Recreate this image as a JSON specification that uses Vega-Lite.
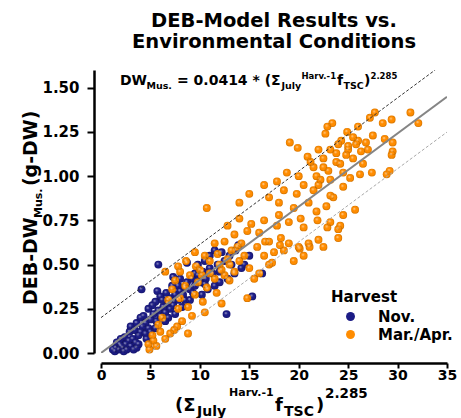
{
  "$schema": "https://vega.github.io/schema/vega-lite/v6.json",
  "autosize": "none",
  "width": 346,
  "height": 283,
  "padding": {"left": 101, "top": 70, "right": 14, "bottom": 65},
  "background": "white",
  "config": {"view": {"stroke": null}, "font": "DejaVu Sans"},
  "title": {"text": ["DEB-Model Results vs.", "Environmental Conditions"], "font": "DejaVu Sans", "fontSize": 19.5, "fontWeight": "bold", "anchor": "middle", "offset": 18, "lineHeight": 21, "color": "black"},
  "datasets": {
    "pts": [
      {"x":1.2,"y":0.02,"Harvest":"Nov."},{"x":1.4,"y":0.01,"Harvest":"Nov."},{"x":1.5,"y":0.03,"Harvest":"Nov."},{"x":1.6,"y":0.06,"Harvest":"Nov."},{"x":1.8,"y":0.02,"Harvest":"Nov."},{"x":1.9,"y":0.05,"Harvest":"Nov."},{"x":2.0,"y":0.04,"Harvest":"Nov."},{"x":2.0,"y":0.08,"Harvest":"Nov."},{"x":2.2,"y":0.03,"Harvest":"Nov."},{"x":2.3,"y":0.01,"Harvest":"Nov."},{"x":2.4,"y":0.09,"Harvest":"Nov."},{"x":2.5,"y":0.05,"Harvest":"Nov."},{"x":2.6,"y":0.02,"Harvest":"Nov."},{"x":2.8,"y":0.07,"Harvest":"Nov."},{"x":2.9,"y":0.12,"Harvest":"Nov."},{"x":3.0,"y":0.04,"Harvest":"Nov."},{"x":3.0,"y":0.15,"Harvest":"Nov."},{"x":3.2,"y":0.08,"Harvest":"Nov."},{"x":3.3,"y":0.02,"Harvest":"Nov."},{"x":3.4,"y":0.13,"Harvest":"Nov."},{"x":3.5,"y":0.06,"Harvest":"Nov."},{"x":3.6,"y":0.03,"Harvest":"Nov."},{"x":3.6,"y":0.17,"Harvest":"Nov."},{"x":3.8,"y":0.10,"Harvest":"Nov."},{"x":3.8,"y":0.05,"Harvest":"Nov."},{"x":4.0,"y":0.12,"Harvest":"Nov."},{"x":4.0,"y":0.20,"Harvest":"Nov."},{"x":4.1,"y":0.36,"Harvest":"Nov."},{"x":4.2,"y":0.15,"Harvest":"Nov."},{"x":4.3,"y":0.21,"Harvest":"Nov."},{"x":4.5,"y":0.17,"Harvest":"Nov."},{"x":4.5,"y":0.11,"Harvest":"Nov."},{"x":4.6,"y":0.08,"Harvest":"Nov."},{"x":4.8,"y":0.14,"Harvest":"Nov."},{"x":4.8,"y":0.25,"Harvest":"Nov."},{"x":5.0,"y":0.19,"Harvest":"Nov."},{"x":5.0,"y":0.12,"Harvest":"Nov."},{"x":5.2,"y":0.27,"Harvest":"Nov."},{"x":5.3,"y":0.22,"Harvest":"Nov."},{"x":5.5,"y":0.14,"Harvest":"Nov."},{"x":5.5,"y":0.29,"Harvest":"Nov."},{"x":5.6,"y":0.18,"Harvest":"Nov."},{"x":5.7,"y":0.35,"Harvest":"Nov."},{"x":5.8,"y":0.24,"Harvest":"Nov."},{"x":5.8,"y":0.50,"Harvest":"Nov."},{"x":6.0,"y":0.21,"Harvest":"Nov."},{"x":6.0,"y":0.32,"Harvest":"Nov."},{"x":6.2,"y":0.30,"Harvest":"Nov."},{"x":6.3,"y":0.26,"Harvest":"Nov."},{"x":6.5,"y":0.23,"Harvest":"Nov."},{"x":6.5,"y":0.18,"Harvest":"Nov."},{"x":6.6,"y":0.34,"Harvest":"Nov."},{"x":6.8,"y":0.28,"Harvest":"Nov."},{"x":6.8,"y":0.20,"Harvest":"Nov."},{"x":7.0,"y":0.31,"Harvest":"Nov."},{"x":7.0,"y":0.25,"Harvest":"Nov."},{"x":7.2,"y":0.38,"Harvest":"Nov."},{"x":7.3,"y":0.27,"Harvest":"Nov."},{"x":7.3,"y":0.43,"Harvest":"Nov."},{"x":7.5,"y":0.33,"Harvest":"Nov."},{"x":7.5,"y":0.22,"Harvest":"Nov."},{"x":7.8,"y":0.30,"Harvest":"Nov."},{"x":7.8,"y":0.38,"Harvest":"Nov."},{"x":8.0,"y":0.35,"Harvest":"Nov."},{"x":8.0,"y":0.42,"Harvest":"Nov."},{"x":8.2,"y":0.26,"Harvest":"Nov."},{"x":8.3,"y":0.33,"Harvest":"Nov."},{"x":8.5,"y":0.37,"Harvest":"Nov."},{"x":8.5,"y":0.30,"Harvest":"Nov."},{"x":8.7,"y":0.40,"Harvest":"Nov."},{"x":8.7,"y":0.51,"Harvest":"Nov."},{"x":9.0,"y":0.36,"Harvest":"Nov."},{"x":9.0,"y":0.30,"Harvest":"Nov."},{"x":9.2,"y":0.42,"Harvest":"Nov."},{"x":9.3,"y":0.34,"Harvest":"Nov."},{"x":9.5,"y":0.38,"Harvest":"Nov."},{"x":9.5,"y":0.45,"Harvest":"Nov."},{"x":9.8,"y":0.44,"Harvest":"Nov."},{"x":9.8,"y":0.50,"Harvest":"Nov."},{"x":10.0,"y":0.40,"Harvest":"Nov."},{"x":10.2,"y":0.33,"Harvest":"Nov."},{"x":10.3,"y":0.46,"Harvest":"Nov."},{"x":10.5,"y":0.52,"Harvest":"Nov."},{"x":10.5,"y":0.39,"Harvest":"Nov."},{"x":10.6,"y":0.42,"Harvest":"Nov."},{"x":10.8,"y":0.36,"Harvest":"Nov."},{"x":11.0,"y":0.48,"Harvest":"Nov."},{"x":11.0,"y":0.55,"Harvest":"Nov."},{"x":11.3,"y":0.45,"Harvest":"Nov."},{"x":11.5,"y":0.38,"Harvest":"Nov."},{"x":11.5,"y":0.58,"Harvest":"Nov."},{"x":11.8,"y":0.50,"Harvest":"Nov."},{"x":12.0,"y":0.46,"Harvest":"Nov."},{"x":12.0,"y":0.40,"Harvest":"Nov."},{"x":12.2,"y":0.57,"Harvest":"Nov."},{"x":12.5,"y":0.52,"Harvest":"Nov."},{"x":12.7,"y":0.22,"Harvest":"Nov."},{"x":12.8,"y":0.42,"Harvest":"Nov."},{"x":13.0,"y":0.55,"Harvest":"Nov."},{"x":13.2,"y":0.50,"Harvest":"Nov."},{"x":13.5,"y":0.45,"Harvest":"Nov."},{"x":13.6,"y":0.58,"Harvest":"Nov."},{"x":13.9,"y":0.61,"Harvest":"Nov."},{"x":14.2,"y":0.48,"Harvest":"Nov."},{"x":14.5,"y":0.50,"Harvest":"Nov."},{"x":15.0,"y":0.55,"Harvest":"Nov."},{"x":15.3,"y":0.32,"Harvest":"Nov."},{"x":16.3,"y":0.45,"Harvest":"Nov."},
      {"x":4.8,"y":0.05,"Harvest":"Mar./Apr."},{"x":5.2,"y":0.10,"Harvest":"Mar./Apr."},{"x":5.3,"y":0.07,"Harvest":"Mar./Apr."},{"x":5.6,"y":0.04,"Harvest":"Mar./Apr."},{"x":6.0,"y":0.12,"Harvest":"Mar./Apr."},{"x":6.2,"y":0.20,"Harvest":"Mar./Apr."},{"x":7.0,"y":0.11,"Harvest":"Mar./Apr."},{"x":7.4,"y":0.13,"Harvest":"Mar./Apr."},{"x":7.7,"y":0.15,"Harvest":"Mar./Apr."},{"x":7.8,"y":0.25,"Harvest":"Mar./Apr."},{"x":8.2,"y":0.18,"Harvest":"Mar./Apr."},{"x":8.8,"y":0.11,"Harvest":"Mar./Apr."},{"x":8.8,"y":0.26,"Harvest":"Mar./Apr."},{"x":9.2,"y":0.21,"Harvest":"Mar./Apr."},{"x":10.5,"y":0.23,"Harvest":"Mar./Apr."},{"x":10.3,"y":0.29,"Harvest":"Mar./Apr."},{"x":12.2,"y":0.28,"Harvest":"Mar./Apr."},{"x":14.8,"y":0.31,"Harvest":"Mar./Apr."},{"x":11.7,"y":0.34,"Harvest":"Mar./Apr."},{"x":10.7,"y":0.37,"Harvest":"Mar./Apr."},{"x":9.8,"y":0.40,"Harvest":"Mar./Apr."},{"x":8.5,"y":0.38,"Harvest":"Mar./Apr."},{"x":7.5,"y":0.41,"Harvest":"Mar./Apr."},{"x":9.0,"y":0.44,"Harvest":"Mar./Apr."},{"x":8.0,"y":0.46,"Harvest":"Mar./Apr."},{"x":10.0,"y":0.47,"Harvest":"Mar./Apr."},{"x":11.5,"y":0.42,"Harvest":"Mar./Apr."},{"x":12.5,"y":0.44,"Harvest":"Mar./Apr."},{"x":13.0,"y":0.41,"Harvest":"Mar./Apr."},{"x":13.5,"y":0.46,"Harvest":"Mar./Apr."},{"x":12.0,"y":0.50,"Harvest":"Mar./Apr."},{"x":11.0,"y":0.52,"Harvest":"Mar./Apr."},{"x":10.5,"y":0.55,"Harvest":"Mar./Apr."},{"x":9.5,"y":0.57,"Harvest":"Mar./Apr."},{"x":11.8,"y":0.56,"Harvest":"Mar./Apr."},{"x":12.8,"y":0.53,"Harvest":"Mar./Apr."},{"x":14.0,"y":0.52,"Harvest":"Mar./Apr."},{"x":14.5,"y":0.55,"Harvest":"Mar./Apr."},{"x":13.2,"y":0.58,"Harvest":"Mar./Apr."},{"x":15.0,"y":0.48,"Harvest":"Mar./Apr."},{"x":16.0,"y":0.45,"Harvest":"Mar./Apr."},{"x":15.5,"y":0.42,"Harvest":"Mar./Apr."},{"x":17.0,"y":0.50,"Harvest":"Mar./Apr."},{"x":16.5,"y":0.55,"Harvest":"Mar./Apr."},{"x":17.5,"y":0.57,"Harvest":"Mar./Apr."},{"x":15.8,"y":0.60,"Harvest":"Mar./Apr."},{"x":14.2,"y":0.62,"Harvest":"Mar./Apr."},{"x":12.5,"y":0.63,"Harvest":"Mar./Apr."},{"x":11.5,"y":0.62,"Harvest":"Mar./Apr."},{"x":13.5,"y":0.67,"Harvest":"Mar./Apr."},{"x":14.8,"y":0.69,"Harvest":"Mar./Apr."},{"x":16.0,"y":0.68,"Harvest":"Mar./Apr."},{"x":15.2,"y":0.73,"Harvest":"Mar./Apr."},{"x":12.8,"y":0.72,"Harvest":"Mar./Apr."},{"x":14.0,"y":0.76,"Harvest":"Mar./Apr."},{"x":16.5,"y":0.75,"Harvest":"Mar./Apr."},{"x":17.8,"y":0.72,"Harvest":"Mar./Apr."},{"x":18.2,"y":0.65,"Harvest":"Mar./Apr."},{"x":17.0,"y":0.63,"Harvest":"Mar./Apr."},{"x":19.0,"y":0.62,"Harvest":"Mar./Apr."},{"x":18.5,"y":0.58,"Harvest":"Mar./Apr."},{"x":20.0,"y":0.60,"Harvest":"Mar./Apr."},{"x":21.0,"y":0.62,"Harvest":"Mar./Apr."},{"x":22.0,"y":0.64,"Harvest":"Mar./Apr."},{"x":19.5,"y":0.52,"Harvest":"Mar./Apr."},{"x":20.5,"y":0.55,"Harvest":"Mar./Apr."},{"x":22.5,"y":0.60,"Harvest":"Mar./Apr."},{"x":24.0,"y":0.65,"Harvest":"Mar./Apr."},{"x":23.2,"y":0.74,"Harvest":"Mar./Apr."},{"x":20.5,"y":0.71,"Harvest":"Mar./Apr."},{"x":24.0,"y":0.70,"Harvest":"Mar./Apr."},{"x":24.5,"y":0.78,"Harvest":"Mar./Apr."},{"x":22.9,"y":0.71,"Harvest":"Mar./Apr."},{"x":21.9,"y":0.75,"Harvest":"Mar./Apr."},{"x":24.2,"y":0.72,"Harvest":"Mar./Apr."},{"x":25.7,"y":0.81,"Harvest":"Mar./Apr."},{"x":21.0,"y":0.85,"Harvest":"Mar./Apr."},{"x":19.5,"y":0.82,"Harvest":"Mar./Apr."},{"x":18.0,"y":0.85,"Harvest":"Mar./Apr."},{"x":17.0,"y":0.88,"Harvest":"Mar./Apr."},{"x":16.5,"y":0.95,"Harvest":"Mar./Apr."},{"x":15.0,"y":0.90,"Harvest":"Mar./Apr."},{"x":14.0,"y":0.85,"Harvest":"Mar./Apr."},{"x":10.7,"y":0.82,"Harvest":"Mar./Apr."},{"x":18.5,"y":0.92,"Harvest":"Mar./Apr."},{"x":19.8,"y":0.90,"Harvest":"Mar./Apr."},{"x":20.5,"y":0.95,"Harvest":"Mar./Apr."},{"x":21.5,"y":0.92,"Harvest":"Mar./Apr."},{"x":22.2,"y":0.98,"Harvest":"Mar./Apr."},{"x":20.0,"y":1.00,"Harvest":"Mar./Apr."},{"x":18.8,"y":1.02,"Harvest":"Mar./Apr."},{"x":17.8,"y":0.97,"Harvest":"Mar./Apr."},{"x":21.5,"y":1.05,"Harvest":"Mar./Apr."},{"x":23.0,"y":1.03,"Harvest":"Mar./Apr."},{"x":22.5,"y":1.10,"Harvest":"Mar./Apr."},{"x":23.8,"y":1.08,"Harvest":"Mar./Apr."},{"x":24.5,"y":1.02,"Harvest":"Mar./Apr."},{"x":25.2,"y":0.99,"Harvest":"Mar./Apr."},{"x":26.2,"y":1.01,"Harvest":"Mar./Apr."},{"x":27.4,"y":1.02,"Harvest":"Mar./Apr."},{"x":29.2,"y":1.03,"Harvest":"Mar./Apr."},{"x":28.9,"y":1.01,"Harvest":"Mar./Apr."},{"x":23.2,"y":0.89,"Harvest":"Mar./Apr."},{"x":24.5,"y":0.94,"Harvest":"Mar./Apr."},{"x":25.5,"y":1.10,"Harvest":"Mar./Apr."},{"x":26.5,"y":1.07,"Harvest":"Mar./Apr."},{"x":27.0,"y":1.15,"Harvest":"Mar./Apr."},{"x":25.0,"y":1.15,"Harvest":"Mar./Apr."},{"x":24.0,"y":1.18,"Harvest":"Mar./Apr."},{"x":23.2,"y":1.15,"Harvest":"Mar./Apr."},{"x":20.9,"y":1.11,"Harvest":"Mar./Apr."},{"x":22.0,"y":1.15,"Harvest":"Mar./Apr."},{"x":19.1,"y":1.19,"Harvest":"Mar./Apr."},{"x":19.9,"y":1.16,"Harvest":"Mar./Apr."},{"x":22.7,"y":1.24,"Harvest":"Mar./Apr."},{"x":22.9,"y":1.28,"Harvest":"Mar./Apr."},{"x":23.4,"y":1.30,"Harvest":"Mar./Apr."},{"x":24.9,"y":1.25,"Harvest":"Mar./Apr."},{"x":26.0,"y":1.20,"Harvest":"Mar./Apr."},{"x":27.5,"y":1.23,"Harvest":"Mar./Apr."},{"x":28.7,"y":1.21,"Harvest":"Mar./Apr."},{"x":29.5,"y":1.19,"Harvest":"Mar./Apr."},{"x":29.5,"y":1.14,"Harvest":"Mar./Apr."},{"x":29.4,"y":1.12,"Harvest":"Mar./Apr."},{"x":27.2,"y":1.33,"Harvest":"Mar./Apr."},{"x":27.7,"y":1.36,"Harvest":"Mar./Apr."},{"x":28.5,"y":1.30,"Harvest":"Mar./Apr."},{"x":29.4,"y":1.32,"Harvest":"Mar./Apr."},{"x":31.3,"y":1.36,"Harvest":"Mar./Apr."},{"x":32.1,"y":1.30,"Harvest":"Mar./Apr."},{"x":26.0,"y":1.28,"Harvest":"Mar./Apr."},{"x":23.5,"y":0.88,"Harvest":"Mar./Apr."},{"x":22.8,"y":0.83,"Harvest":"Mar./Apr."},{"x":21.8,"y":0.80,"Harvest":"Mar./Apr."},{"x":20.2,"y":0.76,"Harvest":"Mar./Apr."},{"x":19.0,"y":0.74,"Harvest":"Mar./Apr."},{"x":18.0,"y":0.78,"Harvest":"Mar./Apr."},{"x":13.8,"y":0.60,"Harvest":"Mar./Apr."},{"x":13.0,"y":0.50,"Harvest":"Mar./Apr."},{"x":12.2,"y":0.47,"Harvest":"Mar./Apr."},{"x":11.0,"y":0.45,"Harvest":"Mar./Apr."},{"x":10.2,"y":0.44,"Harvest":"Mar./Apr."},{"x":9.6,"y":0.49,"Harvest":"Mar./Apr."},{"x":8.6,"y":0.52,"Harvest":"Mar./Apr."},{"x":7.8,"y":0.49,"Harvest":"Mar./Apr."},{"x":6.5,"y":0.46,"Harvest":"Mar./Apr."},{"x":7.2,"y":0.36,"Harvest":"Mar./Apr."},{"x":6.8,"y":0.30,"Harvest":"Mar./Apr."},{"x":8.0,"y":0.31,"Harvest":"Mar./Apr."},{"x":9.5,"y":0.33,"Harvest":"Mar./Apr."},{"x":5.8,"y":0.16,"Harvest":"Mar./Apr."},{"x":6.5,"y":0.08,"Harvest":"Mar./Apr."},{"x":4.9,"y":0.02,"Harvest":"Mar./Apr."},{"x":21.1,"y":0.60,"Harvest":"Mar./Apr."},{"x":18.1,"y":0.61,"Harvest":"Mar./Apr."},{"x":17.3,"y":0.51,"Harvest":"Mar./Apr."},{"x":16.6,"y":0.63,"Harvest":"Mar./Apr."},{"x":20.1,"y":0.59,"Harvest":"Mar./Apr."},{"x":24.3,"y":1.20,"Harvest":"Mar./Apr."},{"x":25.0,"y":1.17,"Harvest":"Mar./Apr."},{"x":25.8,"y":1.18,"Harvest":"Mar./Apr."},{"x":26.3,"y":1.14,"Harvest":"Mar./Apr."},{"x":24.8,"y":1.12,"Harvest":"Mar./Apr."},{"x":25.5,"y":1.22,"Harvest":"Mar./Apr."},{"x":26.8,"y":1.19,"Harvest":"Mar./Apr."},{"x":23.8,"y":1.13,"Harvest":"Mar./Apr."},{"x":21.8,"y":1.00,"Harvest":"Mar./Apr."},{"x":22.5,"y":1.05,"Harvest":"Mar./Apr."},{"x":23.2,"y":0.98,"Harvest":"Mar./Apr."},{"x":24.2,"y":1.07,"Harvest":"Mar./Apr."},{"x":21.2,"y":1.08,"Harvest":"Mar./Apr."},{"x":22.0,"y":0.95,"Harvest":"Mar./Apr."}
    ],
    "fits": [
      {"fit":"main","x":0,"y":0},{"fit":"main","x":35,"y":1.449},
      {"fit":"upper","x":0,"y":0.2},{"fit":"upper","x":33.8,"y":1.6},
      {"fit":"lower","x":4.83,"y":0},{"fit":"lower","x":35,"y":1.249}
    ]
  },
  "layer": [
    {
      "data": {"name": "pts"},
      "mark": {"type": "circle", "size": 62, "opacity": 1},
      "encoding": {
        "x": {"field": "x", "type": "quantitative", "scale": {"domain": [0, 35], "nice": false, "zero": false},
          "axis": {"title": null, "values": [0,2.5,5,7.5,10,12.5,15,17.5,20,22.5,25,27.5,30,32.5,35], "labelExpr": "datum.value % 5 === 0 ? format(datum.value, 'd') : ''", "offset": 10, "grid": false, "domainColor": "black", "domainWidth": 2.5, "tickColor": "black", "tickWidth": 2, "tickSize": {"condition": {"test": "datum.value % 5 === 0", "value": 5}, "value": 3.5}, "labelFont": "DejaVu Sans", "labelFontWeight": "bold", "labelFontSize": 14, "labelColor": "black", "labelPadding": 0, "labelFlush": false}},
        "y": {"field": "y", "type": "quantitative", "scale": {"domain": [0, 1.6], "nice": false, "zero": false},
          "axis": {"title": null, "values": [0,0.25,0.5,0.75,1,1.25,1.5], "format": ".2f", "offset": 7, "grid": false, "domainColor": "black", "domainWidth": 2.5, "tickColor": "black", "tickWidth": 2, "tickSize": 7, "labelFont": "DejaVu Sans", "labelFontWeight": "bold", "labelFontSize": 15, "labelColor": "black", "labelPadding": 8, "labelFlush": false}},
        "color": {"field": "Harvest", "type": "nominal", "scale": {"domain": ["Nov.", "Mar./Apr."], "range": ["#1c1c86", "#ff8c00"]},
          "legend": {"orient": "none", "legendX": 230, "legendY": 220, "title": "Harvest", "titleFont": "DejaVu Sans", "titleFontSize": 15, "titleFontWeight": "bold", "titleColor": "black", "titlePadding": 4, "labelFont": "DejaVu Sans", "labelFontSize": 15, "labelFontWeight": "bold", "labelColor": "black", "symbolType": "circle", "symbolSize": 80, "symbolStrokeWidth": 0, "symbolOffset": 12, "labelOffset": 20, "rowPadding": 2}}
      }
    },
    {
      "data": {"name": "pts"},
      "mark": {"type": "circle", "size": 62, "fill": {"gradient": "radial", "x1": 0.38, "y1": 0.35, "r1": 0, "x2": 0.5, "y2": 0.5, "r2": 0.5, "stops": [{"offset": 0, "color": "rgba(255,255,255,0.7)"}, {"offset": 0.4, "color": "rgba(255,255,255,0)"}, {"offset": 0.8, "color": "rgba(0,0,0,0)"}, {"offset": 1, "color": "rgba(0,0,0,0.22)"}]}, "opacity": 1},
      "encoding": {"x": {"field": "x", "type": "quantitative"}, "y": {"field": "y", "type": "quantitative"}}
    },
    {
      "data": {"name": "fits"},
      "transform": [{"filter": "datum.fit === 'main'"}],
      "mark": {"type": "line", "color": "#858585", "strokeWidth": 2, "clip": true},
      "encoding": {"x": {"field": "x", "type": "quantitative"}, "y": {"field": "y", "type": "quantitative"}}
    },
    {
      "data": {"name": "fits"},
      "transform": [{"filter": "datum.fit === 'upper'"}],
      "mark": {"type": "line", "color": "#333333", "strokeWidth": 1, "strokeDash": [3, 2], "clip": true},
      "encoding": {"x": {"field": "x", "type": "quantitative"}, "y": {"field": "y", "type": "quantitative"}}
    },
    {
      "data": {"name": "fits"},
      "transform": [{"filter": "datum.fit === 'lower'"}],
      "mark": {"type": "line", "color": "#aaaaaa", "strokeWidth": 1, "strokeDash": [3, 2], "clip": true},
      "encoding": {"x": {"field": "x", "type": "quantitative"}, "y": {"field": "y", "type": "quantitative"}}
    },
    {"data": {"values": [{}]}, "mark": {"type": "text", "text": "DW", "font": "DejaVu Sans", "fontWeight": "bold", "fontSize": 14, "align": "left", "baseline": "alphabetic", "color": "black", "dx": 0}, "encoding": {"x": {"datum": 1.92}, "y": {"datum": 1.515}}},
    {"data": {"values": [{}]}, "mark": {"type": "text", "text": "Mus.", "font": "DejaVu Sans", "fontWeight": "bold", "fontSize": 9.5, "align": "left", "baseline": "alphabetic", "color": "black", "dx": 26.5, "dy": 3.5}, "encoding": {"x": {"datum": 1.92}, "y": {"datum": 1.515}}},
    {"data": {"values": [{}]}, "mark": {"type": "text", "text": "= 0.0414 * (", "font": "DejaVu Sans", "fontWeight": "bold", "fontSize": 14, "align": "left", "baseline": "alphabetic", "color": "black", "dx": 57}, "encoding": {"x": {"datum": 1.92}, "y": {"datum": 1.515}}},
    {"data": {"values": [{}]}, "mark": {"type": "text", "text": "Σ", "font": "DejaVu Sans", "fontWeight": "bold", "fontSize": 14, "align": "left", "baseline": "alphabetic", "color": "black", "dx": 151}, "encoding": {"x": {"datum": 1.92}, "y": {"datum": 1.515}}},
    {"data": {"values": [{}]}, "mark": {"type": "text", "text": "July", "font": "DejaVu Sans", "fontWeight": "bold", "fontSize": 9.5, "align": "left", "baseline": "alphabetic", "color": "black", "dx": 161.5, "dy": 3.5}, "encoding": {"x": {"datum": 1.92}, "y": {"datum": 1.515}}},
    {"data": {"values": [{}]}, "mark": {"type": "text", "text": "Harv.-1", "font": "DejaVu Sans", "fontWeight": "bold", "fontSize": 8.5, "align": "left", "baseline": "alphabetic", "color": "black", "dx": 181.5, "dy": -6}, "encoding": {"x": {"datum": 1.92}, "y": {"datum": 1.515}}},
    {"data": {"values": [{}]}, "mark": {"type": "text", "text": "f", "font": "DejaVu Sans", "fontWeight": "bold", "fontSize": 14, "align": "left", "baseline": "alphabetic", "color": "black", "dx": 217}, "encoding": {"x": {"datum": 1.92}, "y": {"datum": 1.515}}},
    {"data": {"values": [{}]}, "mark": {"type": "text", "text": "TSC", "font": "DejaVu Sans", "fontWeight": "bold", "fontSize": 9.5, "align": "left", "baseline": "alphabetic", "color": "black", "dx": 223.5, "dy": 3.5}, "encoding": {"x": {"datum": 1.92}, "y": {"datum": 1.515}}},
    {"data": {"values": [{}]}, "mark": {"type": "text", "text": ")", "font": "DejaVu Sans", "fontWeight": "bold", "fontSize": 14, "align": "left", "baseline": "alphabetic", "color": "black", "dx": 244}, "encoding": {"x": {"datum": 1.92}, "y": {"datum": 1.515}}},
    {"data": {"values": [{}]}, "mark": {"type": "text", "text": "2.285", "font": "DejaVu Sans", "fontWeight": "bold", "fontSize": 8.5, "align": "left", "baseline": "alphabetic", "color": "black", "dx": 250.5, "dy": -6}, "encoding": {"x": {"datum": 1.92}, "y": {"datum": 1.515}}},
    {"data": {"values": [{}]}, "mark": {"type": "text", "text": "(Σ", "font": "DejaVu Sans", "fontWeight": "bold", "fontSize": 18, "align": "left", "baseline": "alphabetic", "color": "black", "dx": 0}, "encoding": {"x": {"datum": 7.49}, "y": {"datum": -0.328}}},
    {"data": {"values": [{}]}, "mark": {"type": "text", "text": "July", "font": "DejaVu Sans", "fontWeight": "bold", "fontSize": 14, "align": "left", "baseline": "alphabetic", "color": "black", "dx": 22, "dy": 5}, "encoding": {"x": {"datum": 7.49}, "y": {"datum": -0.328}}},
    {"data": {"values": [{}]}, "mark": {"type": "text", "text": "Harv.-1", "font": "DejaVu Sans", "fontWeight": "bold", "fontSize": 11, "align": "left", "baseline": "alphabetic", "color": "black", "dx": 54, "dy": -15}, "encoding": {"x": {"datum": 7.49}, "y": {"datum": -0.328}}},
    {"data": {"values": [{}]}, "mark": {"type": "text", "text": "f", "font": "DejaVu Sans", "fontWeight": "bold", "fontSize": 18, "align": "left", "baseline": "alphabetic", "color": "black", "dx": 100}, "encoding": {"x": {"datum": 7.49}, "y": {"datum": -0.328}}},
    {"data": {"values": [{}]}, "mark": {"type": "text", "text": "TSC", "font": "DejaVu Sans", "fontWeight": "bold", "fontSize": 14, "align": "left", "baseline": "alphabetic", "color": "black", "dx": 109, "dy": 5}, "encoding": {"x": {"datum": 7.49}, "y": {"datum": -0.328}}},
    {"data": {"values": [{}]}, "mark": {"type": "text", "text": ")", "font": "DejaVu Sans", "fontWeight": "bold", "fontSize": 18, "align": "left", "baseline": "alphabetic", "color": "black", "dx": 141}, "encoding": {"x": {"datum": 7.49}, "y": {"datum": -0.328}}},
    {"data": {"values": [{}]}, "mark": {"type": "text", "text": "2.285", "font": "DejaVu Sans", "fontWeight": "bold", "fontSize": 13.5, "align": "left", "baseline": "alphabetic", "color": "black", "dx": 150, "dy": -13}, "encoding": {"x": {"datum": 7.49}, "y": {"datum": -0.328}}},
    {"data": {"values": [{}]}, "mark": {"type": "text", "text": "DEB-DW", "font": "DejaVu Sans", "fontWeight": "bold", "fontSize": 19, "angle": 270, "align": "left", "baseline": "alphabetic", "color": "black", "dx": 0}, "encoding": {"x": {"datum": -6.44}, "y": {"datum": 0.271}}},
    {"data": {"values": [{}]}, "mark": {"type": "text", "text": "Mus.", "font": "DejaVu Sans", "fontWeight": "bold", "fontSize": 11, "angle": 270, "align": "left", "baseline": "alphabetic", "color": "black", "dx": 87, "dy": 5}, "encoding": {"x": {"datum": -6.44}, "y": {"datum": 0.271}}},
    {"data": {"values": [{}]}, "mark": {"type": "text", "text": "(g-DW)", "font": "DejaVu Sans", "fontWeight": "bold", "fontSize": 19, "angle": 270, "align": "left", "baseline": "alphabetic", "color": "black", "dx": 119}, "encoding": {"x": {"datum": -6.44}, "y": {"datum": 0.271}}}
  ]
}
